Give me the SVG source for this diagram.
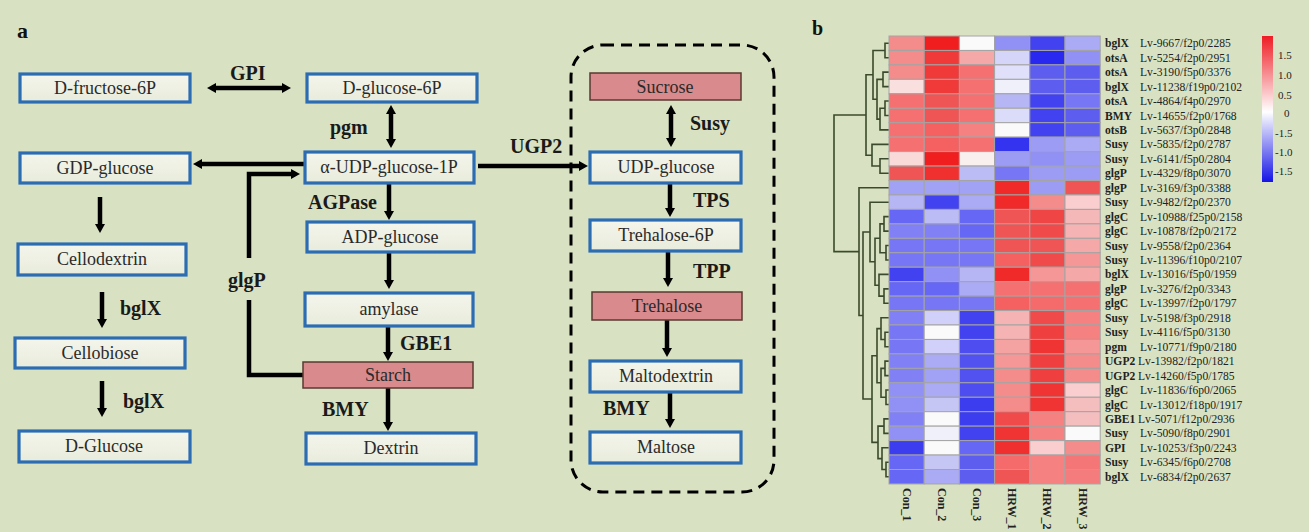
<svg xmlns="http://www.w3.org/2000/svg" width="1309" height="532" viewBox="0 0 1309 532">
  <style>
    .box { fill: url(#boxFill); stroke: #2b6cb3; stroke-width: 3.2; }
    .pink { fill: #d98a8c; stroke: #5a3a30; stroke-width: 1.5; }
    .btxt { font-family: "Liberation Serif", "Times New Roman", serif; font-size: 18px; fill: #2a2a2a; text-anchor: middle; }
    .enz { font-family: "Liberation Serif", "Times New Roman", serif; font-size: 20px; font-weight: bold; fill: #1a1a1a; }
    .panel { font-family: "Liberation Serif", "Times New Roman", serif; font-weight: bold; fill: #111; }
    .arr { fill: none; stroke: #000; stroke-width: 4.5; }
    .one { marker-end: url(#head); }
    .two { marker-start: url(#head); marker-end: url(#head); }
    .dend { fill: none; stroke: #3b4a2c; stroke-width: 1.6; }
    .cells rect { stroke: #a4a4a4; stroke-width: 1; height: 14.45px; width: 35.2px; }
    .gene { font-family: "Liberation Serif", "Times New Roman", serif; font-size: 11.6px; font-weight: bold; fill: #222; }
    .gid { font-family: "Liberation Serif", "Times New Roman", serif; font-size: 11.6px; fill: #222; }
    .col { font-family: "Liberation Serif", "Times New Roman", serif; font-size: 12px; font-weight: bold; fill: #222; }
    .cb { font-family: "Liberation Serif", "Times New Roman", serif; font-size: 11px; fill: #222; }
  </style>
  <defs>
    <linearGradient id="boxFill" x1="0" y1="0" x2="0" y2="1">
      <stop offset="0" stop-color="#f4f5ec"/>
      <stop offset="1" stop-color="#e8ecdb"/>
    </linearGradient>
    <linearGradient id="scale" x1="0" y1="0" x2="0" y2="1">
      <stop offset="0" stop-color="#ee1c24"/>
      <stop offset="0.52" stop-color="#ffffff"/>
      <stop offset="1" stop-color="#1414e6"/>
    </linearGradient>
    <marker id="head" markerUnits="userSpaceOnUse" markerWidth="9" markerHeight="10" viewBox="0 0 9 10" refX="0" refY="5" orient="auto-start-reverse">
      <path d="M0,0 L9,5 L0,10 z" fill="#000"/>
    </marker>
  </defs>

  <rect width="1309" height="532" fill="#d8e2c2"/>

  <!-- panel a -->
  <text class="panel" x="17" y="38" font-size="22">a</text>

  <g id="connectors">
    <path class="arr two" d="M216,88 H282"/>
    <path class="arr two" d="M391,114 V139"/>
    <path class="arr one" d="M305,164 H202"/>
    <path class="arr" d="M303,375 H249 V300" stroke-linejoin="miter"/>
    <path class="arr one" d="M249,258 V174 H291" stroke-linejoin="miter"/>
    <path class="arr one" d="M389,183 V211"/>
    <path class="arr one" d="M389,252 V280"/>
    <path class="arr one" d="M388,327 V352"/>
    <path class="arr one" d="M388,388 V422"/>
    <path class="arr one" d="M100,197 V224"/>
    <path class="arr one" d="M102,292 V319"/>
    <path class="arr one" d="M102,381 V408"/>
    <path class="arr one" d="M478,166 H579"/>
    <path class="arr two" d="M671,114 V138"/>
    <path class="arr one" d="M670,183 V208"/>
    <path class="arr one" d="M668,251 V278"/>
    <path class="arr one" d="M667,320 V348"/>
    <path class="arr one" d="M670,392 V419"/>
    <rect x="571" y="45" width="203" height="447" rx="32" fill="none" stroke="#000" stroke-width="3" stroke-dasharray="11 7"/>
  </g>

  <g id="enzymes">
    <text class="enz" x="230" y="80">GPI</text>
    <text class="enz" x="330" y="134">pgm</text>
    <text class="enz" x="308" y="209">AGPase</text>
    <text class="enz" x="228" y="287">glgP</text>
    <text class="enz" x="400" y="350">GBE1</text>
    <text class="enz" x="322" y="416">BMY</text>
    <text class="enz" x="120" y="315">bglX</text>
    <text class="enz" x="123" y="408">bglX</text>
    <text class="enz" x="510" y="153">UGP2</text>
    <text class="enz" x="690" y="130">Susy</text>
    <text class="enz" x="693" y="207">TPS</text>
    <text class="enz" x="693" y="278">TPP</text>
    <text class="enz" x="603" y="415">BMY</text>
  </g>

  <g id="n-fructose6p"><rect class="box" x="20" y="74" width="170" height="28"/><text class="btxt" x="105" y="94">D-fructose-6P</text></g>
  <g id="n-glucose6p"><rect class="box" x="307" y="74" width="170" height="28"/><text class="btxt" x="392" y="94">D-glucose-6P</text></g>
  <g id="n-gdpglucose"><rect class="box" x="20" y="153" width="170" height="30"/><text class="btxt" x="105" y="174">GDP-glucose</text></g>
  <g id="n-udpglucose1p"><rect class="box" x="305" y="152" width="169" height="31"/><text class="btxt" x="389" y="173">α-UDP-glucose-1P</text></g>
  <g id="n-cellodextrin"><rect class="box" x="18" y="244" width="168" height="31"/><text class="btxt" x="102" y="265">Cellodextrin</text></g>
  <g id="n-adpglucose"><rect class="box" x="307" y="222" width="167" height="30"/><text class="btxt" x="390" y="243">ADP-glucose</text></g>
  <g id="n-amylase"><rect class="box" x="305" y="293" width="168" height="33"/><text class="btxt" x="389" y="315">amylase</text></g>
  <g id="n-cellobiose"><rect class="box" x="15" y="338" width="170" height="30"/><text class="btxt" x="100" y="359">Cellobiose</text></g>
  <g id="n-starch"><rect class="pink" x="303" y="362" width="170" height="26"/><text class="btxt" x="388" y="381">Starch</text></g>
  <g id="n-dglucose"><rect class="box" x="19" y="431" width="171" height="31"/><text class="btxt" x="104" y="452">D-Glucose</text></g>
  <g id="n-dextrin"><rect class="box" x="306" y="433" width="170" height="31"/><text class="btxt" x="391" y="454">Dextrin</text></g>
  <g id="n-sucrose"><rect class="pink" x="590" y="73" width="151" height="27"/><text class="btxt" x="665" y="93">Sucrose</text></g>
  <g id="n-udpglucose"><rect class="box" x="590" y="152" width="151" height="31"/><text class="btxt" x="666" y="173">UDP-glucose</text></g>
  <g id="n-trehalose6p"><rect class="box" x="590" y="220" width="151" height="31"/><text class="btxt" x="666" y="241">Trehalose-6P</text></g>
  <g id="n-trehalose"><rect class="pink" x="592" y="292" width="150" height="28"/><text class="btxt" x="667" y="312">Trehalose</text></g>
  <g id="n-maltodextrin"><rect class="box" x="590" y="361" width="151" height="31"/><text class="btxt" x="666" y="382">Maltodextrin</text></g>
  <g id="n-maltose"><rect class="box" x="590" y="432" width="151" height="31"/><text class="btxt" x="666" y="453">Maltose</text></g>

  <!-- panel b: clustered heatmap -->
  <text class="panel" x="812" y="35" font-size="20">b</text>

  <g id="dendrogram" class="dend">
    <path d="M889,43.2 H885 V57.7 H889"/>
    <path d="M889,72.1 H883 V86.6 H889"/>
    <path d="M889,101 H885 V115.5 H889"/>
    <path d="M885,108.25 H880 V129.9 H889"/>
    <path d="M883,79.35 H877 V119.1 H880"/>
    <path d="M885,50.45 H873 V99.2 H877"/>
    <path d="M889,158.8 H880 V173.3 H889"/>
    <path d="M889,144.4 H872 V166.05 H880"/>
    <path d="M873,74.8 H866 V155.2 H872"/>
    <path d="M889,288.9 H884 V303.3 H889"/>
    <path d="M889,274.4 H879 V296.1 H884"/>
    <path d="M889,216.6 H884 V231.1 H889"/>
    <path d="M889,245.5 H886 V260 H889"/>
    <path d="M884,223.85 H880 V252.75 H886"/>
    <path d="M880,238.3 H875 V285.25 H879"/>
    <path d="M889,202.2 H870 V261.8 H875"/>
    <path d="M889,332.2 H885 V346.7 H889"/>
    <path d="M889,317.8 H881 V339.45 H885"/>
    <path d="M889,361.1 H885 V375.6 H889"/>
    <path d="M889,390 H886 V404.5 H889"/>
    <path d="M885,368.35 H881 V397.25 H886"/>
    <path d="M881,328.6 H877 V382.8 H881"/>
    <path d="M889,418.9 H884 V433.4 H889"/>
    <path d="M889,462.3 H886 V476.7 H889"/>
    <path d="M889,447.8 H882 V469.5 H886"/>
    <path d="M884,426.15 H878 V458.65 H882"/>
    <path d="M877,355.7 H872 V442.4 H878"/>
    <path d="M870,232 H863 V399.05 H872"/>
    <path d="M889,187.7 H859 V315.5 H863"/>
    <path d="M866,115 H834 V251.6 H859"/>
  </g>

  <g id="heatmap" class="cells" transform="translate(889,36)">
    <g transform="translate(0,0)"><rect x="0" fill="#f58c8c"/><rect x="35.2" fill="#f01e1e"/><rect x="70.4" fill="#fafafa"/><rect x="105.6" fill="#9191f5"/><rect x="140.8" fill="#4242f0"/><rect x="176" fill="#ababf5"/></g>
    <g transform="translate(0,14.45)"><rect x="0" fill="#f58c8c"/><rect x="35.2" fill="#f03a3a"/><rect x="70.4" fill="#f5a8a8"/><rect x="105.6" fill="#d5d5fa"/><rect x="140.8" fill="#2828f0"/><rect x="176" fill="#9191f5"/></g>
    <g transform="translate(0,28.9)"><rect x="0" fill="#f58c8c"/><rect x="35.2" fill="#f03a3a"/><rect x="70.4" fill="#f57171"/><rect x="105.6" fill="#e0e0fa"/><rect x="140.8" fill="#5d5df0"/><rect x="176" fill="#5d5df0"/></g>
    <g transform="translate(0,43.35)"><rect x="0" fill="#fadfdf"/><rect x="35.2" fill="#f03a3a"/><rect x="70.4" fill="#f57171"/><rect x="105.6" fill="#f0f0fa"/><rect x="140.8" fill="#5d5df0"/><rect x="176" fill="#5d5df0"/></g>
    <g transform="translate(0,57.8)"><rect x="0" fill="#f57171"/><rect x="35.2" fill="#f05555"/><rect x="70.4" fill="#f57171"/><rect x="105.6" fill="#b6b6f5"/><rect x="140.8" fill="#4242f0"/><rect x="176" fill="#7777f5"/></g>
    <g transform="translate(0,72.25)"><rect x="0" fill="#f57171"/><rect x="35.2" fill="#f05555"/><rect x="70.4" fill="#f57171"/><rect x="105.6" fill="#dbdbfa"/><rect x="140.8" fill="#4242f0"/><rect x="176" fill="#5d5df0"/></g>
    <g transform="translate(0,86.7)"><rect x="0" fill="#f57171"/><rect x="35.2" fill="#f56060"/><rect x="70.4" fill="#f58181"/><rect x="105.6" fill="#fafafa"/><rect x="140.8" fill="#4242f0"/><rect x="176" fill="#5d5df0"/></g>
    <g transform="translate(0,101.15)"><rect x="0" fill="#f57171"/><rect x="35.2" fill="#f56060"/><rect x="70.4" fill="#f57171"/><rect x="105.6" fill="#3333f0"/><rect x="140.8" fill="#9c9cf5"/><rect x="176" fill="#ababf5"/></g>
    <g transform="translate(0,115.6)"><rect x="0" fill="#fad9d9"/><rect x="35.2" fill="#f01e1e"/><rect x="70.4" fill="#faefef"/><rect x="105.6" fill="#9c9cf5"/><rect x="140.8" fill="#9191f5"/><rect x="176" fill="#9c9cf5"/></g>
    <g transform="translate(0,130.05)"><rect x="0" fill="#f05555"/><rect x="35.2" fill="#f02f2f"/><rect x="70.4" fill="#bbbbf5"/><rect x="105.6" fill="#7777f5"/><rect x="140.8" fill="#9c9cf5"/><rect x="176" fill="#9c9cf5"/></g>
    <g transform="translate(0,144.5)"><rect x="0" fill="#a1a1f5"/><rect x="35.2" fill="#a1a1f5"/><rect x="70.4" fill="#a1a1f5"/><rect x="105.6" fill="#f02929"/><rect x="140.8" fill="#9c9cf5"/><rect x="176" fill="#f05555"/></g>
    <g transform="translate(0,158.95)"><rect x="0" fill="#b6b6f5"/><rect x="35.2" fill="#4242f0"/><rect x="70.4" fill="#ababf5"/><rect x="105.6" fill="#f02929"/><rect x="140.8" fill="#f58c8c"/><rect x="176" fill="#facece"/></g>
    <g transform="translate(0,173.4)"><rect x="0" fill="#6767f5"/><rect x="35.2" fill="#bbbbf5"/><rect x="70.4" fill="#6767f5"/><rect x="105.6" fill="#f05555"/><rect x="140.8" fill="#f04545"/><rect x="176" fill="#f5b8b8"/></g>
    <g transform="translate(0,187.85)"><rect x="0" fill="#8181f5"/><rect x="35.2" fill="#8181f5"/><rect x="70.4" fill="#6767f5"/><rect x="105.6" fill="#f05555"/><rect x="140.8" fill="#f04a4a"/><rect x="176" fill="#f5b3b3"/></g>
    <g transform="translate(0,202.3)"><rect x="0" fill="#7777f5"/><rect x="35.2" fill="#7777f5"/><rect x="70.4" fill="#7777f5"/><rect x="105.6" fill="#f05555"/><rect x="140.8" fill="#f05555"/><rect x="176" fill="#f5a8a8"/></g>
    <g transform="translate(0,216.75)"><rect x="0" fill="#7777f5"/><rect x="35.2" fill="#7777f5"/><rect x="70.4" fill="#7777f5"/><rect x="105.6" fill="#f56060"/><rect x="140.8" fill="#f04a4a"/><rect x="176" fill="#f59797"/></g>
    <g transform="translate(0,231.2)"><rect x="0" fill="#4242f0"/><rect x="35.2" fill="#9191f5"/><rect x="70.4" fill="#b6b6f5"/><rect x="105.6" fill="#f02929"/><rect x="140.8" fill="#f59797"/><rect x="176" fill="#f5a8a8"/></g>
    <g transform="translate(0,245.65)"><rect x="0" fill="#6767f5"/><rect x="35.2" fill="#6767f5"/><rect x="70.4" fill="#ababf5"/><rect x="105.6" fill="#f57171"/><rect x="140.8" fill="#f57171"/><rect x="176" fill="#f57171"/></g>
    <g transform="translate(0,260.1)"><rect x="0" fill="#7777f5"/><rect x="35.2" fill="#7777f5"/><rect x="70.4" fill="#7777f5"/><rect x="105.6" fill="#f56060"/><rect x="140.8" fill="#f56b6b"/><rect x="176" fill="#f57171"/></g>
    <g transform="translate(0,274.55)"><rect x="0" fill="#8181f5"/><rect x="35.2" fill="#d0d0fa"/><rect x="70.4" fill="#4242f0"/><rect x="105.6" fill="#f5b3b3"/><rect x="140.8" fill="#f04a4a"/><rect x="176" fill="#f58181"/></g>
    <g transform="translate(0,289)"><rect x="0" fill="#7777f5"/><rect x="35.2" fill="#fafafa"/><rect x="70.4" fill="#4242f0"/><rect x="105.6" fill="#f5b3b3"/><rect x="140.8" fill="#f03f3f"/><rect x="176" fill="#f58181"/></g>
    <g transform="translate(0,303.45)"><rect x="0" fill="#7777f5"/><rect x="35.2" fill="#d0d0fa"/><rect x="70.4" fill="#4d4df0"/><rect x="105.6" fill="#f5a2a2"/><rect x="140.8" fill="#f03434"/><rect x="176" fill="#f59797"/></g>
    <g transform="translate(0,317.9)"><rect x="0" fill="#8181f5"/><rect x="35.2" fill="#ababf5"/><rect x="70.4" fill="#5252f0"/><rect x="105.6" fill="#f59797"/><rect x="140.8" fill="#f03f3f"/><rect x="176" fill="#f58c8c"/></g>
    <g transform="translate(0,332.35)"><rect x="0" fill="#8181f5"/><rect x="35.2" fill="#a1a1f5"/><rect x="70.4" fill="#5252f0"/><rect x="105.6" fill="#f58c8c"/><rect x="140.8" fill="#f03f3f"/><rect x="176" fill="#f58c8c"/></g>
    <g transform="translate(0,346.8)"><rect x="0" fill="#9191f5"/><rect x="35.2" fill="#ababf5"/><rect x="70.4" fill="#4d4df0"/><rect x="105.6" fill="#f58c8c"/><rect x="140.8" fill="#f03434"/><rect x="176" fill="#facece"/></g>
    <g transform="translate(0,361.25)"><rect x="0" fill="#9191f5"/><rect x="35.2" fill="#c6c6f5"/><rect x="70.4" fill="#3d3df0"/><rect x="105.6" fill="#f58c8c"/><rect x="140.8" fill="#f03434"/><rect x="176" fill="#f5bebe"/></g>
    <g transform="translate(0,375.7)"><rect x="0" fill="#8181f5"/><rect x="35.2" fill="#fafafa"/><rect x="70.4" fill="#3d3df0"/><rect x="105.6" fill="#f04a4a"/><rect x="140.8" fill="#f58181"/><rect x="176" fill="#f5bebe"/></g>
    <g transform="translate(0,390.15)"><rect x="0" fill="#9191f5"/><rect x="35.2" fill="#f0f0fa"/><rect x="70.4" fill="#4242f0"/><rect x="105.6" fill="#f03434"/><rect x="140.8" fill="#f58181"/><rect x="176" fill="#fafafa"/></g>
    <g transform="translate(0,404.6)"><rect x="0" fill="#3d3df0"/><rect x="35.2" fill="#fafafa"/><rect x="70.4" fill="#6767f5"/><rect x="105.6" fill="#f02f2f"/><rect x="140.8" fill="#facece"/><rect x="176" fill="#f58c8c"/></g>
    <g transform="translate(0,419.05)"><rect x="0" fill="#6767f5"/><rect x="35.2" fill="#c6c6f5"/><rect x="70.4" fill="#5d5df0"/><rect x="105.6" fill="#f56b6b"/><rect x="140.8" fill="#f58181"/><rect x="176" fill="#f57676"/></g>
    <g transform="translate(0,433.5)"><rect x="0" fill="#6767f5"/><rect x="35.2" fill="#ababf5"/><rect x="70.4" fill="#5d5df0"/><rect x="105.6" fill="#f05555"/><rect x="140.8" fill="#f58181"/><rect x="176" fill="#f57c7c"/></g>
  </g>

  <g id="row-labels">
    <text class="gene" x="1105" y="47.2">bglX</text><text class="gid" x="1140" y="47.2">Lv-9667/f2p0/2285</text>
    <text class="gene" x="1105" y="61.7">otsA</text><text class="gid" x="1140" y="61.7">Lv-5254/f2p0/2951</text>
    <text class="gene" x="1105" y="76.1">otsA</text><text class="gid" x="1140" y="76.1">Lv-3190/f5p0/3376</text>
    <text class="gene" x="1105" y="90.6">bglX</text><text class="gid" x="1140" y="90.6">Lv-11238/f19p0/2102</text>
    <text class="gene" x="1105" y="105">otsA</text><text class="gid" x="1140" y="105">Lv-4864/f4p0/2970</text>
    <text class="gene" x="1105" y="119.5">BMY</text><text class="gid" x="1140" y="119.5">Lv-14655/f2p0/1768</text>
    <text class="gene" x="1105" y="133.9">otsB</text><text class="gid" x="1140" y="133.9">Lv-5637/f3p0/2848</text>
    <text class="gene" x="1105" y="148.4">Susy</text><text class="gid" x="1140" y="148.4">Lv-5835/f2p0/2787</text>
    <text class="gene" x="1105" y="162.8">Susy</text><text class="gid" x="1140" y="162.8">Lv-6141/f5p0/2804</text>
    <text class="gene" x="1105" y="177.3">glgP</text><text class="gid" x="1140" y="177.3">Lv-4329/f8p0/3070</text>
    <text class="gene" x="1105" y="191.7">glgP</text><text class="gid" x="1140" y="191.7">Lv-3169/f3p0/3388</text>
    <text class="gene" x="1105" y="206.2">Susy</text><text class="gid" x="1140" y="206.2">Lv-9482/f2p0/2370</text>
    <text class="gene" x="1105" y="220.6">glgC</text><text class="gid" x="1140" y="220.6">Lv-10988/f25p0/2158</text>
    <text class="gene" x="1105" y="235.1">glgC</text><text class="gid" x="1140" y="235.1">Lv-10878/f2p0/2172</text>
    <text class="gene" x="1105" y="249.5">Susy</text><text class="gid" x="1140" y="249.5">Lv-9558/f2p0/2364</text>
    <text class="gene" x="1105" y="264">Susy</text><text class="gid" x="1140" y="264">Lv-11396/f10p0/2107</text>
    <text class="gene" x="1105" y="278.4">bglX</text><text class="gid" x="1140" y="278.4">Lv-13016/f5p0/1959</text>
    <text class="gene" x="1105" y="292.9">glgP</text><text class="gid" x="1140" y="292.9">Lv-3276/f2p0/3343</text>
    <text class="gene" x="1105" y="307.3">glgC</text><text class="gid" x="1140" y="307.3">Lv-13997/f2p0/1797</text>
    <text class="gene" x="1105" y="321.8">Susy</text><text class="gid" x="1140" y="321.8">Lv-5198/f3p0/2918</text>
    <text class="gene" x="1105" y="336.2">Susy</text><text class="gid" x="1140" y="336.2">Lv-4116/f5p0/3130</text>
    <text class="gene" x="1105" y="350.7">pgm</text><text class="gid" x="1140" y="350.7">Lv-10771/f9p0/2180</text>
    <text class="gene" x="1105" y="365.1">UGP2</text><text class="gid" x="1138" y="365.1">Lv-13982/f2p0/1821</text>
    <text class="gene" x="1105" y="379.6">UGP2</text><text class="gid" x="1138" y="379.6">Lv-14260/f5p0/1785</text>
    <text class="gene" x="1105" y="394">glgC</text><text class="gid" x="1140" y="394">Lv-11836/f6p0/2065</text>
    <text class="gene" x="1105" y="408.5">glgC</text><text class="gid" x="1140" y="408.5">Lv-13012/f18p0/1917</text>
    <text class="gene" x="1105" y="422.9">GBE1</text><text class="gid" x="1138" y="422.9">Lv-5071/f12p0/2936</text>
    <text class="gene" x="1105" y="437.4">Susy</text><text class="gid" x="1140" y="437.4">Lv-5090/f8p0/2901</text>
    <text class="gene" x="1105" y="451.8">GPI</text><text class="gid" x="1140" y="451.8">Lv-10253/f3p0/2243</text>
    <text class="gene" x="1105" y="466.3">Susy</text><text class="gid" x="1140" y="466.3">Lv-6345/f6p0/2708</text>
    <text class="gene" x="1105" y="480.7">bglX</text><text class="gid" x="1140" y="480.7">Lv-6834/f2p0/2637</text>
  </g>

  <g id="col-labels">
    <text class="col" transform="translate(903,488) rotate(90)">Con_1</text>
    <text class="col" transform="translate(938,488) rotate(90)">Con_2</text>
    <text class="col" transform="translate(973,488) rotate(90)">Con_3</text>
    <text class="col" transform="translate(1008,488) rotate(90)">HRW_1</text>
    <text class="col" transform="translate(1043,488) rotate(90)">HRW_2</text>
    <text class="col" transform="translate(1079,488) rotate(90)">HRW_3</text>
  </g>

  <g id="colour-key">
    <rect x="1262" y="36" width="11" height="146" fill="url(#scale)"/>
    <text class="cb" x="1278" y="59">1.5</text>
    <text class="cb" x="1278" y="79">1.0</text>
    <text class="cb" x="1278" y="99">0.5</text>
    <text class="cb" x="1284" y="117">0</text>
    <text class="cb" x="1275" y="137">-1.5</text>
    <text class="cb" x="1275" y="156">-1.0</text>
    <text class="cb" x="1275" y="175">-1.5</text>
  </g>
</svg>
